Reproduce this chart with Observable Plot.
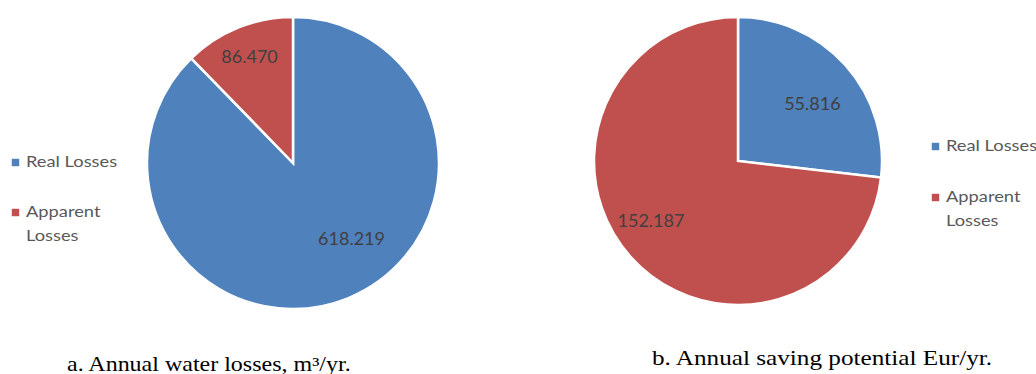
<!DOCTYPE html>
<html>
<head>
<meta charset="utf-8">
<script src="https://cdn.jsdelivr.net/npm/d3@7"></script>
<script src="https://cdn.jsdelivr.net/npm/@observablehq/plot@0.6"></script>
<style>
  body { margin: 0; background: #fff; }
</style>
</head>
<body>
<div id="chart"></div>
<script>
// Loss categories and the two pie series
const categories = ["Real Losses", "Apparent Losses"];
const waterLosses = [618.219, 86.470];      // m³/yr
const savingPotential = [55.816, 152.187];  // Eur/yr
const captions = ["a. Annual water losses, m³/yr.", "b. Annual saving potential Eur/yr."];
const legendLines = [["Real Losses"], ["Apparent", "Losses"]];
const palette = ["#4F81BD", "#C0504D"];

const W = 1036, H = 374;
const fmt = d3.format(".3f");
const pieLayout = d3.pie().sort(null).value(d => d.value);

// Page layout (in pixel-like layout units)
const panels = [
  {id: "a", values: waterLosses, cx: 293, cy: 163, r: 146,
   labelK: [0.62, 0.8], labelShift: [[24, -8], [0, 2]],
   legendX: 15, legendY: [162, 212], legendClip: null,
   caption: {x: 67, y: 371, size: 20}},
  {id: "b", values: savingPotential, cx: 738, cy: 161, r: 144,
   labelK: [0.65, 0.74], labelShift: [[4, 5], [-8, -11]],
   legendX: 935, legendY: [146, 197], legendClip: 227,
   caption: {x: 652, y: 365, size: 21}}
];

panels.forEach((p, pi) => {
  p.rows = categories.map((c, i) => ({category: c, value: p.values[i]}));
  p.arcs = pieLayout(p.rows);
  p.labels = p.arcs.map((a, i) => {
    const mid = (a.startAngle + a.endAngle) / 2;
    const k = p.labelK[i] * p.r;
    return {
      x: p.cx + k * Math.sin(mid) + p.labelShift[i][0],
      y: p.cy - k * Math.cos(mid) + p.labelShift[i][1],
      text: fmt(a.data.value)
    };
  });
  p.legendSwatches = categories.map((c, i) => ({category: c, x: p.legendX, y: p.legendY[i]}));
  p.legendText = legendLines.flatMap((lines, i) =>
    lines.map((t, j) => ({text: t, x: p.legendX + 11, y: p.legendY[i] + j * 24})));
  p.captionRow = [{x: p.caption.x, y: p.caption.y, text: captions[pi]}];
});

// Pie mark drawn with d3.arc in the plot's own x/y/color scales
function pieMark(p) {
  return (index, scales) => {
    const px = scales.x(p.cx), py = scales.y(p.cy);
    const pr = scales.x(p.cx + p.r) - scales.x(p.cx);
    const arc = d3.arc().innerRadius(0).outerRadius(pr);
    const g = d3.create("svg:g").attr("transform", `translate(${px},${py})`);
    g.selectAll("path")
      .data(p.arcs)
      .join("path")
      .attr("d", arc)
      .attr("fill", d => scales.color(d.data.category))
      .attr("stroke", "#fff")
      .attr("stroke-width", 2.5);
    return g.node();
  };
}

// Left-anchored text whose glyphs are set slightly wide (horizontal stretch),
// optionally clipped at a bottom edge given in y-scale units
function wideText(rows, {font, size, fill, stretch, baseline = "middle", clipBottom = null, id}) {
  return (index, scales) => {
    const g = d3.create("svg:g")
      .attr("font-family", font)
      .attr("font-size", size)
      .attr("text-anchor", "start")
      .attr("fill", fill);
    if (clipBottom != null) {
      g.append("clipPath").attr("id", id)
        .append("rect")
        .attr("x", 0).attr("y", 0)
        .attr("width", W).attr("height", scales.y(clipBottom));
      g.attr("clip-path", `url(#${id})`);
    }
    g.selectAll("text")
      .data(rows)
      .join("text")
      .attr("transform", d => `translate(${scales.x(d.x)},${scales.y(d.y)}) scale(${stretch},1)`)
      .attr("dy", baseline === "middle" ? "0.35em" : null)
      .text(d => d.text);
    return g.node();
  };
}

const marks = [];
panels.forEach(p => {
  marks.push(pieMark(p));
  marks.push(Plot.text(p.labels, {
    x: "x", y: "y", text: "text",
    fill: "#404040", fontSize: 18, fontFamily: "Lato"
  }));
  marks.push(Plot.dot(p.legendSwatches, {
    x: "x", y: "y", fill: "category", symbol: "square", r: 4.2, stroke: null
  }));
  marks.push(wideText(p.legendText, {
    font: "Lato", size: 15, fill: "#595959", stretch: 1.22,
    clipBottom: p.legendClip, id: `legend-clip-${p.id}`
  }));
  marks.push(wideText(p.captionRow, {
    font: "Liberation Serif", size: p.caption.size, fill: "#000", stretch: 1.2,
    baseline: "alphabetic"
  }));
});

const chart = Plot.plot({
  width: W,
  height: H,
  margin: 0,
  x: {domain: [0, W], range: [0, W], axis: null},
  y: {domain: [0, H], range: [0, H], axis: null},
  color: {domain: categories, range: palette},
  style: {background: "#fff", overflow: "hidden"},
  marks
});

document.getElementById("chart").append(chart);
</script>
</body>
</html>
